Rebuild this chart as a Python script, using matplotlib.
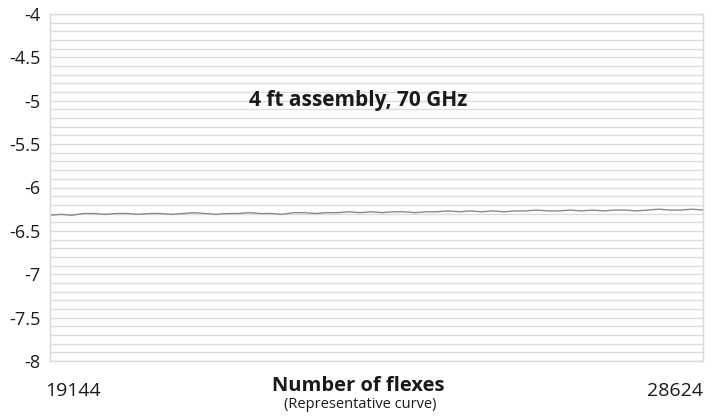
import matplotlib.pyplot as plt
import matplotlib.transforms as mtransforms
import numpy as np

# --- data ---
flex_start = 19144
flex_end = 28624
loss_db = [
    -6.32, -6.31, -6.32, -6.30, -6.30, -6.31, -6.30, -6.30, -6.31, -6.30,
    -6.30, -6.31, -6.30, -6.29, -6.30, -6.31, -6.30, -6.30, -6.29, -6.30,
    -6.30, -6.31, -6.29, -6.29, -6.30, -6.29, -6.29, -6.28, -6.29, -6.28,
    -6.29, -6.28, -6.28, -6.29, -6.28, -6.28, -6.27, -6.28, -6.27, -6.28,
    -6.27, -6.28, -6.27, -6.27, -6.26, -6.27, -6.27, -6.26, -6.27, -6.26,
    -6.27, -6.26, -6.26, -6.27, -6.26, -6.25, -6.26, -6.26, -6.25, -6.26,
]
y_ticks = [-4, -4.5, -5, -5.5, -6, -6.5, -7, -7.5, -8]
title_text = "4 ft assembly, 70 GHz"

plt.rcParams['font.family'] = ['Open Sans', 'DejaVu Sans']

fig = plt.figure(figsize=(7.17, 4.17), dpi=100)
ax = fig.add_axes([50/717, 56/417, 653/717, 347/417])

flexes = np.linspace(flex_start, flex_end, len(loss_db))
ax.plot(flexes, loss_db, color="#8a8a8a", lw=1.0)

ax.set_xlim(flex_start, flex_end)
ax.set_ylim(-8, -4)

# gridlines every 0.1 dB
ax.set_yticks(y_ticks)
ax.set_yticklabels([f"{t:g}" for t in y_ticks], fontsize=13, color="#1a1a1a")
ax.set_yticks(np.arange(-8, -3.95, 0.1), minor=True)
ax.grid(axis='y', which='both', color="#dcdcdc", lw=1.0)
ax.tick_params(axis='y', which='both', length=0, pad=7)

ax.set_xticks([flex_start, flex_end])
xl = ax.set_xticklabels([str(flex_start), str(flex_end)], fontsize=14, color="#1a1a1a")
ax.tick_params(axis='x', length=0, pad=15)
xl[0].set_horizontalalignment('left')
xl[0].set_transform(xl[0].get_transform() + mtransforms.ScaledTranslation(-5/100, 0, fig.dpi_scale_trans))
xl[1].set_horizontalalignment('right')

for s in ax.spines.values():
    s.set_color("#d9d9d9")
    s.set_linewidth(1.0)

# title sits a bit left of the plot centre in the reference
ax.text(0.472, 0.75, title_text, transform=ax.transAxes, ha='center', va='center',
        fontsize=15, fontweight='bold', color="#1a1a1a")

fig.text(358/717, 1 - 386/417, "Number of flexes", ha='center', va='center',
         fontsize=14.5, fontweight='bold', color="#1a1a1a")
fig.text(360/717, 1 - 404/417, "(Representative curve)", ha='center', va='center',
         fontsize=10.5, color="#1a1a1a")

fig.savefig("out.png", dpi=100)
